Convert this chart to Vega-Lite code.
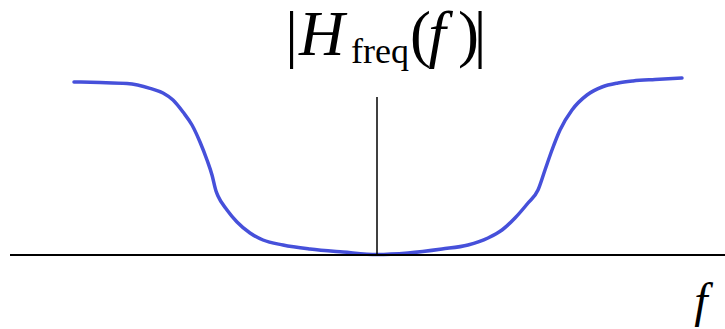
{
  "$schema": "https://vega.github.io/schema/vega-lite/v6.json",
  "width": 725,
  "height": 329,
  "padding": 0,
  "autosize": {"type": "none"},
  "background": "white",
  "config": {"view": {"stroke": null}},
  "data": {"values": [{}]},
  "datasets": {
    "response": [
      {"f": -303, "H": 173}, {"f": -277, "H": 172.5}, {"f": -250, "H": 171.5}, {"f": -227, "H": 166.7},
      {"f": -214, "H": 162}, {"f": -204, "H": 155}, {"f": -194, "H": 143}, {"f": -185, "H": 130},
      {"f": -177, "H": 113}, {"f": -170, "H": 95}, {"f": -165, "H": 80}, {"f": -161, "H": 64},
      {"f": -159, "H": 59}, {"f": -150, "H": 45}, {"f": -140, "H": 33}, {"f": -127, "H": 22},
      {"f": -114, "H": 15}, {"f": -94, "H": 10}, {"f": -67, "H": 6}, {"f": -34, "H": 3},
      {"f": 0, "H": 0.5},
      {"f": 31, "H": 2}, {"f": 65, "H": 6}, {"f": 91, "H": 10}, {"f": 111, "H": 17},
      {"f": 125, "H": 25}, {"f": 138, "H": 37}, {"f": 151, "H": 52}, {"f": 161, "H": 65},
      {"f": 168, "H": 85}, {"f": 175, "H": 105}, {"f": 183, "H": 125}, {"f": 195, "H": 145},
      {"f": 210, "H": 160}, {"f": 225, "H": 168}, {"f": 241, "H": 172}, {"f": 256, "H": 174},
      {"f": 278, "H": 175.5}, {"f": 305, "H": 177}
    ]
  },
  "layer": [
    {
      "data": {"name": "response"},
      "mark": {"type": "line", "color": "#4650DA", "strokeWidth": 3.5, "interpolate": "monotone", "strokeCap": "round"},
      "encoding": {
        "x": {"field": "f", "type": "quantitative", "scale": {"domain": [-377, 348], "nice": false, "zero": false}, "axis": null},
        "y": {"field": "H", "type": "quantitative", "scale": {"domain": [-74, 255], "nice": false, "zero": false}, "axis": null}
      }
    },
    {
      "mark": {"type": "rule", "color": "black", "strokeWidth": 2},
      "encoding": {
        "x": {"datum": -367}, "x2": {"datum": 348},
        "y": {"datum": 0}
      }
    },
    {
      "mark": {"type": "rule", "color": "black", "strokeWidth": 1.5},
      "encoding": {
        "x": {"datum": 0},
        "y": {"datum": 0}, "y2": {"datum": 158}
      }
    },
    {
      "mark": {"type": "text", "text": "|", "font": "Liberation Serif", "fontSize": 63, "align": "center", "baseline": "alphabetic", "color": "black"},
      "encoding": {"x": {"datum": -85.5}, "y": {"datum": 200}}
    },
    {
      "mark": {"type": "text", "text": "H", "font": "Liberation Serif", "fontSize": 63, "fontStyle": "italic", "align": "left", "baseline": "alphabetic", "color": "black"},
      "encoding": {"x": {"datum": -78}, "y": {"datum": 200}}
    },
    {
      "mark": {"type": "text", "text": "freq", "font": "Liberation Serif", "fontSize": 36, "align": "left", "baseline": "alphabetic", "color": "black"},
      "encoding": {"x": {"datum": -26}, "y": {"datum": 192}}
    },
    {
      "mark": {"type": "text", "text": "(", "font": "Liberation Serif", "fontSize": 63, "align": "left", "baseline": "alphabetic", "color": "black"},
      "encoding": {"x": {"datum": 33}, "y": {"datum": 200}}
    },
    {
      "mark": {"type": "text", "text": "f", "font": "Liberation Serif", "fontSize": 63, "fontStyle": "italic", "align": "center", "baseline": "alphabetic", "color": "black"},
      "encoding": {"x": {"datum": 60}, "y": {"datum": 200}}
    },
    {
      "mark": {"type": "text", "text": ")", "font": "Liberation Serif", "fontSize": 63, "align": "left", "baseline": "alphabetic", "color": "black"},
      "encoding": {"x": {"datum": 81}, "y": {"datum": 200}}
    },
    {
      "mark": {"type": "text", "text": "|", "font": "Liberation Serif", "fontSize": 63, "align": "center", "baseline": "alphabetic", "color": "black"},
      "encoding": {"x": {"datum": 103}, "y": {"datum": 200}}
    },
    {
      "mark": {"type": "text", "text": "f", "font": "Liberation Serif", "fontSize": 48, "fontStyle": "italic", "align": "center", "baseline": "alphabetic", "color": "black"},
      "encoding": {"x": {"datum": 324}, "y": {"datum": -62}}
    }
  ]
}
